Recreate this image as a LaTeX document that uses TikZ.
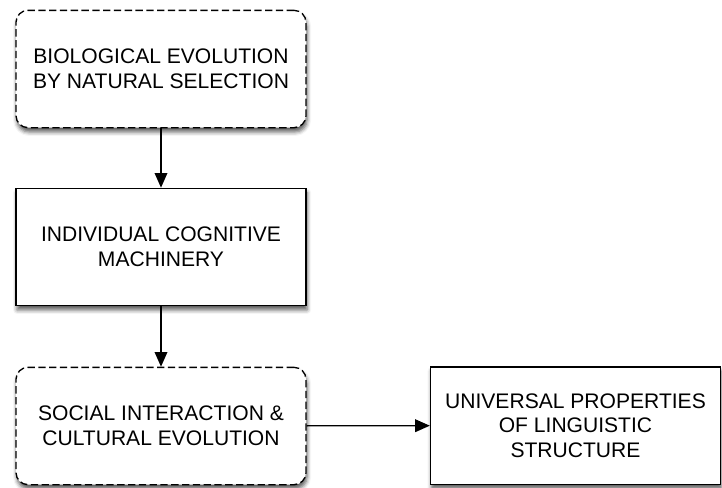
\documentclass[tikz,border=0pt]{standalone}
\usepackage{fontspec}
\setmainfont{Liberation Sans}
\usepackage{tikz}
\usetikzlibrary{arrows.meta,shadows.blur}

\begin{document}
\begin{tikzpicture}[x=0.75pt,y=0.75pt,yscale=-1,xscale=1,
    boxnode/.style={draw, line width=1pt, fill=white, minimum width=217.5pt, minimum height=88pt, align=center, inner sep=0.75pt, font=\fontsize{15.8}{18.5}\selectfont, blur shadow={shadow xshift=0.8pt, shadow yshift=-3.2pt, shadow blur radius=3pt, shadow opacity=65}},
    roundnode/.style={boxnode, rounded corners=9pt, dash pattern=on 5.5pt off 2.6pt},
    flowarrow/.style={-{Triangle[length=11pt,width=9.5pt]}, line width=1pt}]
        %uncomment if require: \path (0,487); %set diagram left start at 0, and has height of 487
        \useasboundingbox (0,0) rectangle (722,487);

        %Rounded Rect [id:bio]
        \draw (161,69) node [roundnode] (bio) {BIOLOGICAL EVOLUTION\\BY NATURAL SELECTION};
        %Shape: Rectangle [id:cog]
        \draw (161,247) node [boxnode] (cog) {INDIVIDUAL COGNITIVE\\MACHINERY};
        %Rounded Rect [id:social]
        \draw (161,426) node [roundnode] (social) {SOCIAL INTERACTION \&\\CULTURAL EVOLUTION};
        %Shape: Rectangle [id:universal]
        \draw (575.5,425.5) node [boxnode] (universal) {UNIVERSAL PROPERTIES\\OF LINGUISTIC\\STRUCTURE};

        %Straight Lines [id:arrows]
        \draw [flowarrow] (bio) -- (cog);
        \draw [flowarrow] (cog) -- (social);
        \draw [flowarrow] (social) -- (universal);

    \end{tikzpicture}
\end{document}
